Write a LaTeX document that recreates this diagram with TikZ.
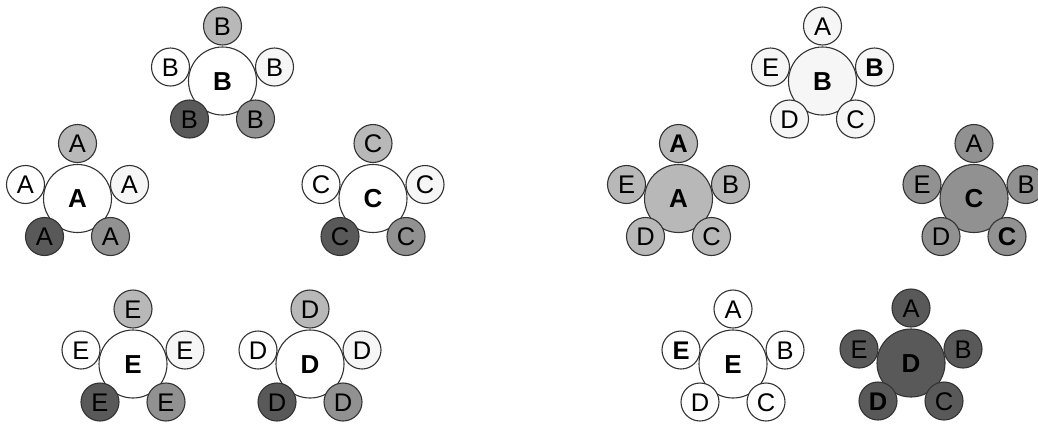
\documentclass[tikz,border=0pt]{standalone}
\usepackage{fontspec}
\setmainfont{Liberation Sans}
\usetikzlibrary{calc}
\definecolor{cA}{gray}{0.72}
\definecolor{cB}{gray}{0.965}
\definecolor{cC}{gray}{0.57}
\definecolor{cD}{gray}{0.35}
\definecolor{cE}{gray}{1}
\definecolor{edge}{gray}{0.2}
\tikzset{
  hub/.style={circle, draw=edge, line width=1.1pt, minimum size=68pt, inner sep=0pt,
    font=\fontsize{26}{26}\selectfont\bfseries, text height=18.7pt, text depth=0pt},
  sat/.style={circle, draw=edge, line width=1.1pt, minimum size=38pt, inner sep=0pt,
    font=\fontsize{25.5}{25.5}\selectfont, text height=18.3pt, text depth=0pt},
}
\newcommand\leftcl[3]{%
  \node[hub, fill=white] (#1) at (#2) {#3};
  \node[sat, fill=cA] (#1-t)  at ($(#1.center)+(0,-55)$) {#3};
  \node[sat, fill=cB] (#1-r)  at ($(#1.center)+(52,-14)$) {#3};
  \node[sat, fill=cC] (#1-lr) at ($(#1.center)+(33,38)$) {#3};
  \node[sat, fill=cD] (#1-ll) at ($(#1.center)+(-33,38)$) {#3};
  \node[sat, fill=cE] (#1-l)  at ($(#1.center)+(-52,-14)$) {#3};
}
\newcommand\rightcl[9]{%
  \node[hub, fill=#3] (#1) at (#2) {#4};
  \node[sat, fill=#3] (#1-t)  at ($(#1.center)+(0,-55)$) {#5};
  \node[sat, fill=#3] (#1-r)  at ($(#1.center)+(52,-14)$) {#6};
  \node[sat, fill=#3] (#1-lr) at ($(#1.center)+(33,38)$) {#7};
  \node[sat, fill=#3] (#1-ll) at ($(#1.center)+(-33,38)$) {#8};
  \node[sat, fill=#3] (#1-l)  at ($(#1.center)+(-52,-14)$) {#9};
}
\begin{document}
\begin{tikzpicture}[x=1pt, y=-1pt]
  \useasboundingbox (0,0) rectangle (1038,424);
  % left half
  \leftcl{LB}{222.5,81}{B}
  \leftcl{LA}{77.5,198.5}{A}
  \leftcl{LC}{373,198.5}{C}
  \leftcl{LE}{133,364}{E}
  \leftcl{LD}{310,364}{D}
  % right half
  \rightcl{RB}{822.5,81}{cB}{B}{A}{\textbf{B}}{C}{D}{E}
  \rightcl{RA}{678.5,198.5}{cA}{A}{\textbf{A}}{B}{C}{D}{E}
  \rightcl{RC}{974,198.5}{cC}{C}{A}{B}{\textbf{C}}{D}{E}
  \rightcl{RE}{733,364}{cE}{E}{A}{B}{C}{D}{\textbf{E}}
  \rightcl{RD}{911,363}{cD}{D}{A}{B}{C}{\textbf{D}}{E}
\end{tikzpicture}
\end{document}
